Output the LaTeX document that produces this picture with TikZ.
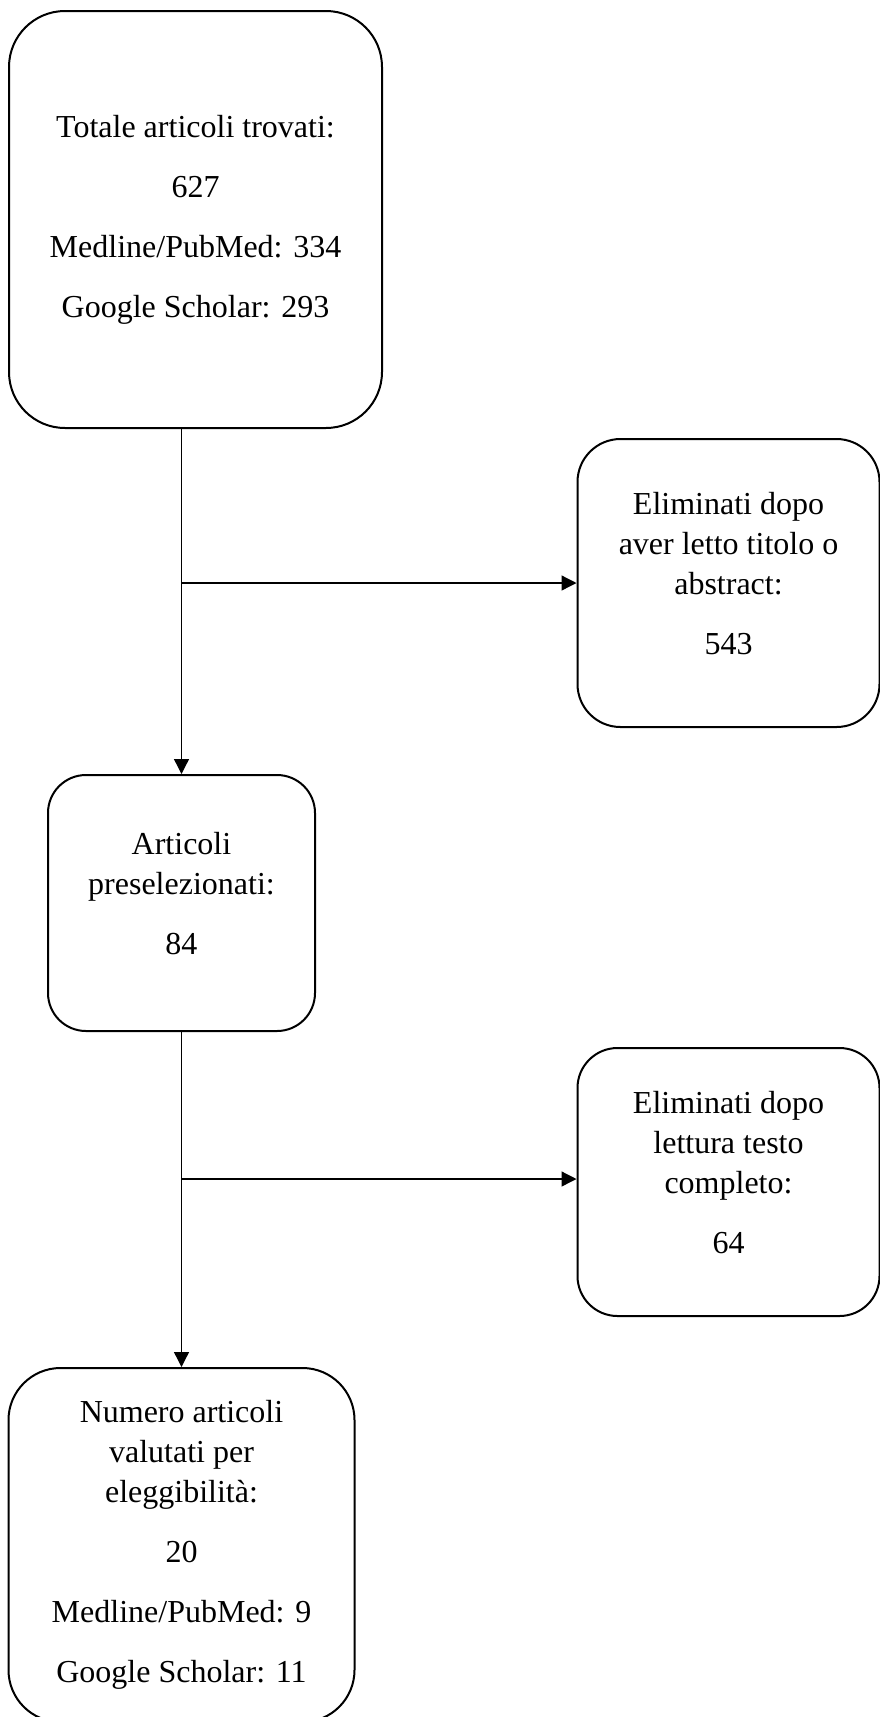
\documentclass[tikz,border=0pt]{standalone}
\usepackage{fontspec}
\setmainfont{Liberation Serif}
\usetikzlibrary{arrows.meta, positioning}

\begin{document}
\begin{tikzpicture}[
  box/.style={draw, line width=2pt, align=center, inner sep=0pt, font=\fontsize{32}{40}\selectfont},
  lifted/.style={text depth=20pt},
  flow/.style={line width=1.3pt, -{Triangle[length=15pt, width=15pt]}}
]
\useasboundingbox (0,0) rectangle (880pt,-1717pt);

\node[box, rounded corners=56pt, minimum width=373pt, minimum height=417pt] (tot) at (195.5pt,-219.5pt)
  {Totale articoli trovati:\\[20pt] 627\\[20pt] Medline/PubMed: 334\\[20pt] Google Scholar: 293};
\node[box, lifted, rounded corners=38pt, minimum width=267pt, minimum height=256pt, below=345pt of tot, xshift=-14pt] (presel)
  {Articoli\\ preselezionati:\\[20pt] 84};
\node[box, rounded corners=52pt, minimum width=346pt, minimum height=354pt, below=335pt of presel] (eleg)
  {Numero articoli\\ valutati per\\ eleggibilità:\\[20pt] 20\\[20pt] Medline/PubMed: 9\\[20pt] Google Scholar: 11};

% branch points
\coordinate[above=191pt of presel] (j1);
\coordinate[above=188pt of eleg] (j2);

\node[box, lifted, rounded corners=43pt, minimum width=302pt, minimum height=288pt, right=395pt of j1] (elim1)
  {Eliminati dopo\\ aver letto titolo o\\ abstract:\\[20pt] 543};
\node[box, lifted, rounded corners=40pt, minimum width=302pt, minimum height=268pt, right=395pt of j2, yshift=-3pt] (elim2)
  {Eliminati dopo\\ lettura testo\\ completo:\\[20pt] 64};

\draw[flow] (tot.south -| presel) -- (presel);
\draw[flow] (j1) -- (elim1);
\draw[flow] (presel) -- (eleg);
\draw[flow] (j2) -- (j2 -| elim2.west);
\end{tikzpicture}
\end{document}
